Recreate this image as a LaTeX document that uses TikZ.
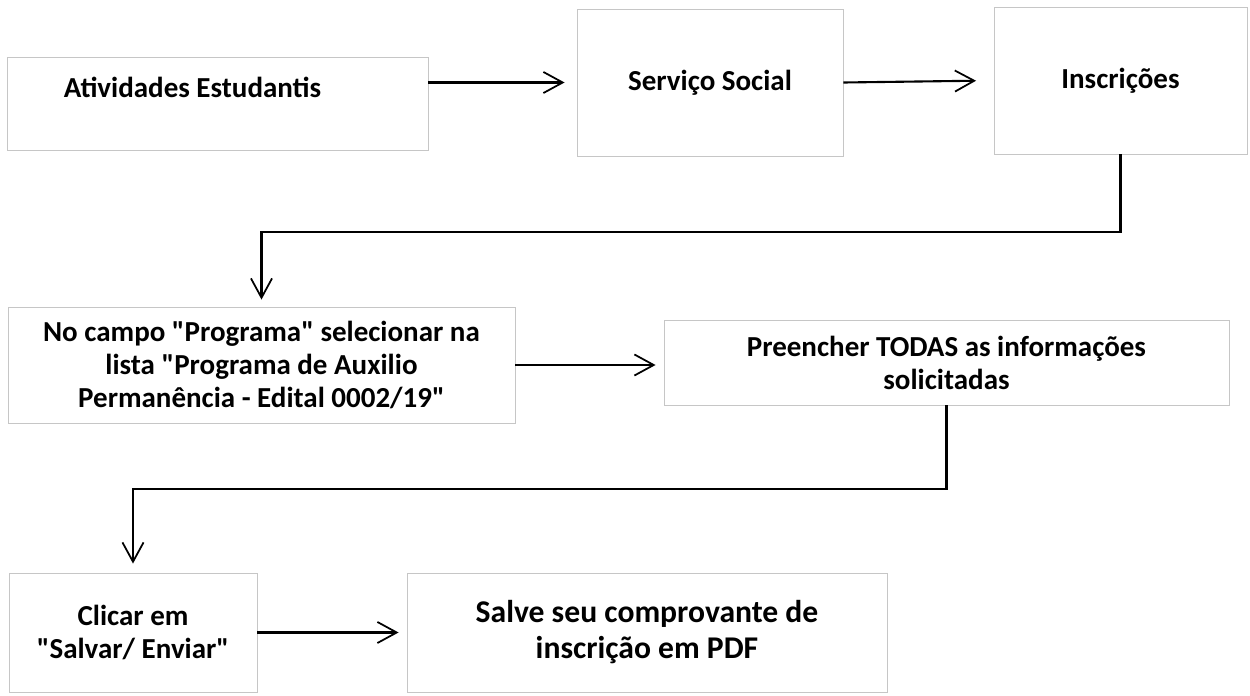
\documentclass[tikz,border=0pt]{standalone}
\usepackage{fontspec}
\setmainfont{Carlito}
\usetikzlibrary{arrows.meta,shadows}

\tikzset{
	caixa/.style={draw=gray!45, line width=0.5pt, fill=white, inner sep=0pt, align=center,
		font=\bfseries\fontsize{16.5}{18.8}\selectfont,
		drop shadow={shadow xshift=0pt, shadow yshift=-0.7pt, opacity=0.6, fill=gray!70}},
	seta/.style={line width=1.2pt, -{Straight Barb[length=11pt,width=12pt,line width=1pt]}}
}
\newcommand{\aspas}{\textquotedbl}

\begin{document}
\begin{tikzpicture}
			\useasboundingbox (0,0) rectangle (25,13.9);

			% primeira linha
			\node[caixa, minimum width=8.42cm, minimum height=1.86cm, text depth=0.65cm] (E1) at (4.35,11.83) {Atividades Estudantis\hspace*{1cm}};
			\node[caixa, minimum width=5.32cm, minimum height=2.94cm] (E2) at (14.2,12.25) {Serviço Social};
			\node[caixa, minimum width=5.06cm, minimum height=2.94cm] (E3) at (22.41,12.29) {Inscrições};

			% segunda linha
			\node[caixa, minimum width=10.14cm, minimum height=2.32cm] (E4) at (5.23,6.60) {No campo \aspas Programa\aspas{} selecionar na\\ lista \aspas Programa de Auxilio\\ Permanência - Edital 0002/19\aspas};
			\node[caixa, minimum width=11.3cm, minimum height=1.7cm] (E5) at (18.93,6.65) {Preencher TODAS as informações\\ solicitadas};

			% terceira linha
			\node[caixa, minimum width=4.96cm, minimum height=2.38cm] (E6) at (2.66,1.25) {Clicar em\\ \aspas Salvar/ Enviar\aspas};
			\node[caixa, minimum width=9.6cm, minimum height=2.38cm, font=\bfseries\fontsize{18}{20.5}\selectfont] (E7) at (12.94,1.25) {Salve seu comprovante de\\ inscrição em PDF};

			\coordinate (D1) at (22.41,9.26);
			\coordinate (D2) at (18.93,4.12);

			\draw[seta, shorten >=0.24cm] (E1.east |- E2.west) -- (E2.west);
			\draw[seta, shorten >=0.35cm] (E2.east) -- (E3.west);
			\draw[seta, shorten >=0.14cm] (E3.south) -- (D1) -| (E4.north);
			\draw[seta, shorten >=0.16cm] (E4.east) -- (E4.east -| E5.west);
			\draw[seta, shorten >=0.18cm] (E5.south) -- (D2) -| (E6.north);
			\draw[seta, shorten >=0.16cm] (E6.east) -- (E7.west);
		\end{tikzpicture}
\end{document}
